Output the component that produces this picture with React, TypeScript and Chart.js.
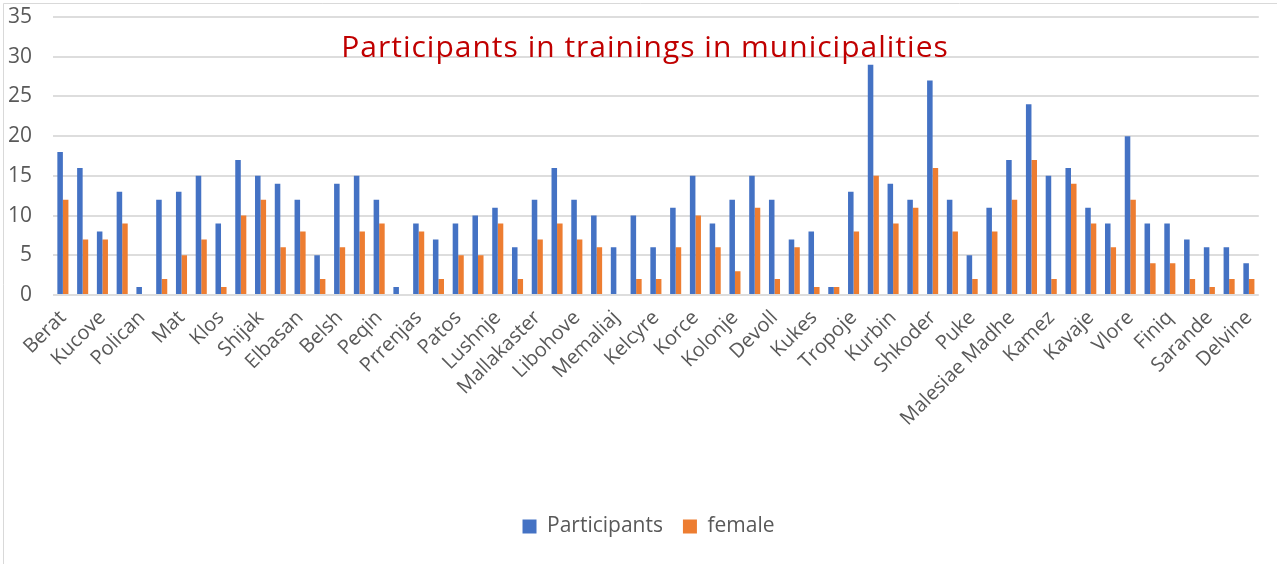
import React, { useEffect, useRef } from "react";
import { Chart, registerables } from "chart.js";

Chart.register(...registerables);

// Category labels visible in the reference (every other category is shown)
const shownLabels = [
  "Berat", "Kucove", "Polican", "Mat", "Klos", "Shijak", "Elbasan", "Belsh",
  "Peqin", "Prrenjas", "Patos", "Lushnje", "Mallakaster", "Libohove", "Memaliaj",
  "Kelcyre", "Korce", "Kolonje", "Devoll", "Kukes", "Tropoje", "Kurbin", "Shkoder",
  "Puke", "Malesiae Madhe", "Kamez", "Kavaje", "Vlore", "Finiq", "Sarande", "Delvine",
];

// Participants per municipality (61 categories)
const participants = [
  18, 16, 8, 13, 1, 12, 13, 15, 9, 17, 15, 14, 12, 5,
  14, 15, 12, 1, 9, 7, 9, 10, 11, 6, 12, 16, 12, 10, 6, 10,
  6, 11, 15, 9, 12, 15, 12, 7, 8, 1, 13, 29, 14, 12, 27, 12, 5,
  11, 17, 24, 15, 16, 11, 9, 20, 9, 9, 7, 6, 6, 4,
];

// Female participants per municipality
const female = [
  12, 7, 7, 9, 0, 2, 5, 7, 1, 10, 12, 6, 8, 2,
  6, 8, 9, 0, 8, 2, 5, 5, 9, 2, 7, 9, 7, 6, 0, 2,
  2, 6, 10, 6, 3, 11, 2, 6, 1, 1, 8, 15, 9, 11, 16, 8, 2,
  8, 12, 17, 2, 14, 9, 6, 12, 4, 4, 2, 1, 2, 2,
];

const yTicks = [0, 5, 10, 15, 20, 25, 30, 35];

const TITLE = "Participants in trainings in municipalities";

// hidden (unlabelled) categories sit between the shown ones
const categories: string[] = participants.map((_, i) =>
  i % 2 === 0 ? shownLabels[i / 2] : ""
);

const FONT = '"Open Sans", "Noto Sans", sans-serif';
const TEXT = "#595959";

const framePlugin = {
  id: "frame",
  beforeDraw(chart: any) {
    const ctx = chart.ctx;
    ctx.save();
    ctx.fillStyle = "#ffffff";
    ctx.fillRect(0, 0, chart.width, chart.height);
    ctx.strokeStyle = "#D9D9D9";
    ctx.lineWidth = 1;
    ctx.beginPath();
    ctx.moveTo(3.5, chart.height + 2);
    ctx.lineTo(3.5, 3.5);
    ctx.lineTo(chart.width + 2, 3.5);
    ctx.stroke();
    ctx.restore();
  },
};

const overlayTitle = {
  id: "overlayTitle",
  afterDatasetsDraw(chart: any) {
    const ctx = chart.ctx;
    ctx.save();
    ctx.font = `30px ${FONT}`;
    try {
      (ctx as any).letterSpacing = "1px";
    } catch (e) {}
    ctx.fillStyle = "#C00000";
    ctx.textAlign = "center";
    ctx.textBaseline = "alphabetic";
    ctx.fillText(TITLE, 645, 57);
    ctx.restore();
  },
};

// center the legend under the plot area rather than the full canvas
const legendShift = {
  id: "legendShift",
  afterLayout(chart: any) {
    const lg = chart.legend;
    if (lg) {
      lg.left += 18;
      lg.right += 18;
    }
  },
};

export default function App() {
  const ref = useRef<HTMLCanvasElement | null>(null);

  useEffect(() => {
    if (!ref.current) return;
    const chart = new Chart(ref.current, {
      type: "bar",
      data: {
        labels: categories,
        datasets: [
          {
            label: "Participants",
            data: participants,
            backgroundColor: "#4472C4",
            barPercentage: 1,
            categoryPercentage: 0.56,
          },
          {
            label: "female",
            data: female,
            backgroundColor: "#ED7D31",
            barPercentage: 1,
            categoryPercentage: 0.56,
          },
        ],
      },
      options: {
        animation: false,
        responsive: false,
        devicePixelRatio: 1,
        layout: { padding: { left: 0, right: 16, top: 17, bottom: 17 } },
        plugins: {
          title: { display: false },
          tooltip: { enabled: false },
          legend: {
            position: "bottom",
            labels: {
              boxWidth: 14,
              boxHeight: 14,
              padding: 20,
              color: TEXT,
              font: { size: 21, family: FONT },
            },
          },
        },
        scales: {
          x: {
            grid: { display: false, drawTicks: false },
            border: { display: false },
            ticks: {
              autoSkip: false,
              maxRotation: 45,
              minRotation: 45,
              padding: 11,
              color: TEXT,
              font: { size: 20, family: FONT },
            },
            afterFit: (s: any) => {
              s.height = 201;
            },
          },
          y: {
            min: 0,
            max: 35,
            afterBuildTicks: (s: any) => {
              s.ticks = yTicks.map((v) => ({ value: v }));
            },
            grid: { color: "#DDDDDD", lineWidth: 2, drawTicks: false },
            border: { display: false },
            ticks: {
              padding: 21,
              color: TEXT,
              font: { size: 21, family: FONT },
            },
            afterFit: (s: any) => {
              s.width = 53;
              s.paddingTop = 0;
              s.paddingBottom = 0;
            },
          },
        },
      },
      plugins: [framePlugin, overlayTitle, legendShift],
    });
    return () => chart.destroy();
  }, []);

  return (
    <div
      style={{
        position: "fixed",
        left: 0,
        top: 0,
        width: 1277,
        height: 564,
        background: "#ffffff",
      }}
    >
      <canvas ref={ref} width={1277} height={564} style={{ width: 1277, height: 564, display: "block" }} />
    </div>
  );
}
